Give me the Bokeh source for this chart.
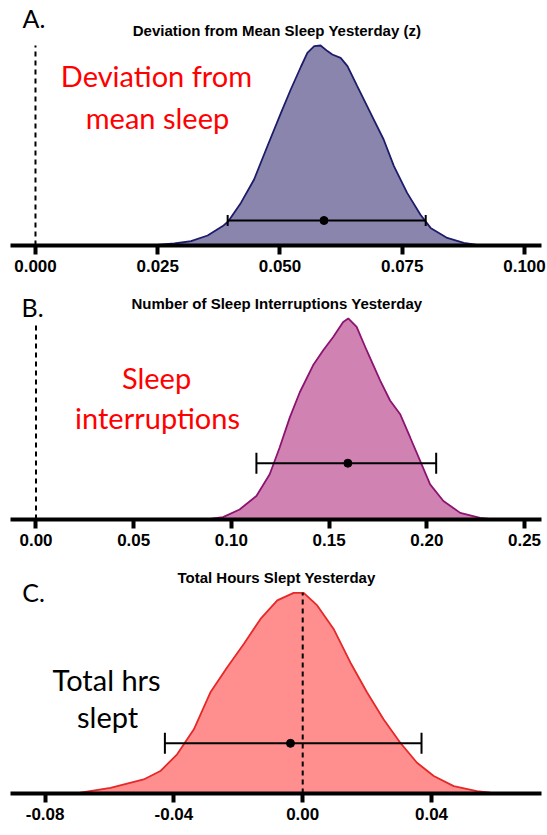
import math
from bokeh.plotting import figure
from bokeh.layouts import column
from bokeh.models import Range1d, FixedTicker, NumeralTickFormatter
from bokeh.core.properties import value
from bokeh.embed import file_html
from bokeh.resources import INLINE

# ---- Panel A: deviation from mean sleep yesterday (z) ----
dev_x = [0.0236, 0.0284, 0.0318, 0.0352, 0.0383, 0.0394, 0.0420, 0.0447, 0.0474,
         0.0502, 0.0522, 0.0543, 0.0556, 0.0570, 0.0583, 0.0597, 0.0607, 0.0624,
         0.0638, 0.0658, 0.0685, 0.0712, 0.0733, 0.0760, 0.0787, 0.0808, 0.0842,
         0.0876, 0.0903, 0.0920]
dev_density = [0.0, 0.010, 0.022, 0.050, 0.097, 0.120, 0.213, 0.330, 0.495,
               0.663, 0.780, 0.895, 0.963, 0.997, 1.000, 0.972, 0.955, 0.938,
               0.897, 0.797, 0.663, 0.530, 0.397, 0.263, 0.155, 0.088, 0.038,
               0.013, 0.003, 0.0]
dev_estimate = 0.0590
dev_ci = [0.0393, 0.0798]
dev_ticks = [0.0, 0.025, 0.05, 0.075, 0.1]
dev_tick_labels = ["0.000", "0.025", "0.050", "0.075", "0.100"]

# ---- Panel B: number of sleep interruptions yesterday ----
int_x = [0.0872, 0.0957, 0.1042, 0.1128, 0.1196, 0.1247, 0.1299, 0.1350, 0.1418,
         0.1470, 0.1521, 0.1572, 0.1598, 0.1641, 0.1692, 0.1761, 0.1812, 0.1863,
         0.1915, 0.1966, 0.2017, 0.2085, 0.2171, 0.2273, 0.2340]
int_density = [0.0, 0.012, 0.050, 0.117, 0.225, 0.358, 0.508, 0.633, 0.767,
               0.842, 0.908, 0.983, 1.000, 0.958, 0.842, 0.692, 0.592, 0.525,
               0.408, 0.292, 0.175, 0.092, 0.033, 0.008, 0.0]
int_estimate = 0.1596
int_ci = [0.1128, 0.2048]
int_ticks = [0.0, 0.05, 0.10, 0.15, 0.20, 0.25]
int_tick_labels = ["0.00", "0.05", "0.10", "0.15", "0.20", "0.25"]

# ---- Panel C: total hours slept yesterday ----
hrs_x = [-0.0700, -0.0690, -0.0597, -0.0494, -0.0442, -0.0390, -0.0338, -0.0287,
         -0.0235, -0.0183, -0.0131, -0.0079, -0.0028, 0.0003, 0.0045, 0.0096,
         0.0148, 0.0200, 0.0251, 0.0303, 0.0355, 0.0407, 0.0469, 0.0541, 0.0583,
         0.0620]
hrs_density = [0.0, 0.004, 0.028, 0.070, 0.112, 0.195, 0.320, 0.503, 0.628,
               0.745, 0.870, 0.962, 1.000, 1.000, 0.937, 0.820, 0.653, 0.503,
               0.370, 0.253, 0.153, 0.087, 0.037, 0.012, 0.004, 0.0]
hrs_estimate = -0.0038
hrs_ci = [-0.0428, 0.0369]
hrs_ticks = [-0.08, -0.04, 0.0, 0.04]
hrs_tick_labels = ["-0.08", "-0.04", "0.00", "0.04"]

TEXT_FONT = "Lato"
AXIS_FONT = "Liberation Sans"


def make_panel(height, bottom, x_start, x_end, y_end, xs, dens, fill, edge,
               est, ci, bar_y, cap, ticks, tick_labels, fmt, zero_top):
    p = figure(width=547, height=height, x_range=Range1d(x_start, x_end),
               y_range=Range1d(0, y_end), output_backend="svg",
               toolbar_location=None, title=None, y_axis_location=None,
               min_border_left=10, min_border_right=6, min_border_top=0,
               min_border_bottom=bottom)
    p.outline_line_color = None
    p.xgrid.visible = False
    p.ygrid.visible = False
    p.background_fill_color = "white"
    p.border_fill_color = "white"

    ax = p.xaxis[0]
    ax.ticker = FixedTicker(ticks=ticks)
    ax.formatter = NumeralTickFormatter(format=fmt)
    ax.major_label_overrides = dict(zip(ticks, tick_labels))
    ax.axis_line_width = 4
    ax.axis_line_color = "black"
    ax.major_tick_line_width = 4
    ax.major_tick_line_color = "black"
    ax.major_tick_out = 9
    ax.major_tick_in = 0
    ax.minor_tick_line_color = None
    ax.major_label_standoff = 5
    ax.major_label_text_font = AXIS_FONT
    ax.major_label_text_font_style = "bold"
    ax.major_label_text_font_size = "17px"
    ax.major_label_text_color = "black"

    # posterior density
    p.varea(x=xs, y1=[0] * len(xs), y2=dens, fill_color=fill, fill_alpha=1.0)
    p.line(x=xs, y=dens, line_color=edge, line_width=1.8)

    # reference line at zero
    p.segment(x0=[0], y0=[0], x1=[0], y1=[zero_top], line_color="black",
              line_width=2, line_dash="5 4")

    # interval with point estimate
    p.segment(x0=[ci[0]], y0=[bar_y], x1=[ci[1]], y1=[bar_y],
              line_color="black", line_width=2)
    p.scatter(x=ci, y=[bar_y, bar_y], marker="dash", angle=math.pi / 2,
              size=cap, line_color="black", line_width=2)
    p.scatter(x=[est], y=[bar_y], marker="circle", size=8,
              fill_color="black", line_color="black")
    return p


def add_text(p, x, y, text, size, color="black", font=TEXT_FONT, style="normal",
             align="center"):
    p.text(x=[x], y=[y], text=[text], text_font=value(font),
           text_font_size=size, text_font_style=style, text_color=color,
           text_align=align, text_baseline="middle")


# Panel A
pa = make_panel(285, 40, -0.00511, 0.10348, 1.225, dev_x, dev_density,
                "#8985ad", "#1e1c6a", dev_estimate, dev_ci, 0.125, 11,
                dev_ticks, dev_tick_labels, "0.000", 1.0)
add_text(pa, -0.00266, 1.14, "A.", "25px", align="left")
add_text(pa, 0.04939, 1.075, "Deviation from Mean Sleep Yesterday (z)", "15px",
         font=AXIS_FONT, style="bold")
add_text(pa, 0.02474, 0.85, "Deviation from", "29px", color="#ff0000")
add_text(pa, 0.02495, 0.64, "mean sleep", "29px", color="#ff0000")

# Panel B
pb = make_panel(275, 41, -0.01305, 0.2587, 1.164, int_x, int_density,
                "#d083b2", "#8c1470", int_estimate, int_ci, 0.28, 21,
                int_ticks, int_tick_labels, "0.00", 0.98)
add_text(pb, -0.00742, 1.055, "B.", "25px", align="left")
add_text(pb, 0.1233, 1.076, "Number of Sleep Interruptions Yesterday", "15px",
         font=AXIS_FONT, style="bold")
add_text(pb, 0.0617, 0.706, "Sleep", "29px", color="#ff0000")
add_text(pb, 0.0622, 0.507, "interruptions", "29px", color="#ff0000")

# Panel C
pc = make_panel(275, 42, -0.09075, 0.07416, 1.161, hrs_x, hrs_density,
                "#ff8e8e", "#e62828", hrs_estimate, hrs_ci, 0.25, 21,
                hrs_ticks, hrs_tick_labels, "0.00", 1.0)
add_text(pc, -0.0871, 1.006, "C.", "25px", align="left")
add_text(pc, -0.00814, 1.076, "Total Hours Slept Yesterday", "15px",
         font=AXIS_FONT, style="bold")
add_text(pc, -0.0609, 0.566, "Total hrs", "29px")
add_text(pc, -0.0606, 0.385, "slept", "29px")

layout = column(pa, pb, pc, spacing=0)
open("out.html", "w").write(file_html(layout, INLINE))
